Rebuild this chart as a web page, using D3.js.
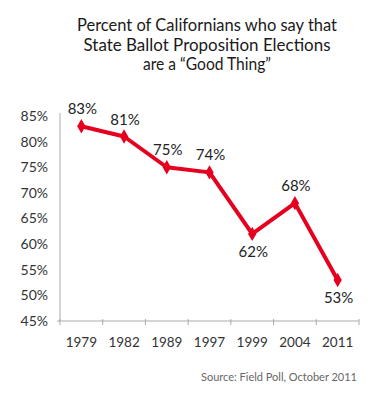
<!DOCTYPE html>
<html><head><meta charset="utf-8">
<script src="https://cdn.jsdelivr.net/npm/d3@7"></script>
<style>
html,body{margin:0;padding:0;background:#fff;}
text{font-family:Lato,"Open Sans",sans-serif;}
</style></head>
<body>
<svg id="chart" width="383" height="400"></svg>
<script>
const titleLines = ["Percent of Californians who say that", "State Ballot Proposition Elections", "are a \u201CGood Thing\u201D"];
const years = ["1979", "1982", "1989", "1997", "1999", "2004", "2011"];
const values = [83, 81, 75, 74, 62, 68, 53];
const labelBelow = [false, false, false, false, true, false, true];
const yTicks = [45, 50, 55, 60, 65, 70, 75, 80, 85];
const source = "Source: Field Poll, October 2011";

const svg = d3.select("#chart");
const red = "#e6001f";

const x = d3.scaleBand().domain(years).range([60, 359]);
const y = d3.scaleLinear().domain([45, 85]).range([321, 116]);

// Title
const titleW = [260, 247, 128];
const titleY = [31, 51, 70];
svg.selectAll("text.title").data(titleLines).enter().append("text")
  .attr("class", "title")
  .attr("x", 207).attr("y", (d, i) => titleY[i])
  .attr("text-anchor", "middle")
  .attr("font-size", 17).attr("fill", "#1a1a1a")
  .attr("textLength", (d, i) => titleW[i]).attr("lengthAdjust", "spacingAndGlyphs")
  .text(d => d);

// Y axis
const yAxis = d3.axisLeft(y).tickValues(yTicks).tickSize(0).tickPadding(12).tickFormat(d => d + "%");
const gy = svg.append("g").attr("transform", "translate(60,0)").call(yAxis);
gy.select(".domain").attr("stroke", "#aaa").attr("d", `M0,${y(85)-3}V${y(45)}`);
gy.selectAll("text").attr("font-size", 14).attr("fill", "#333").attr("font-family", "Lato,sans-serif");

// X axis
const xAxis = d3.axisBottom(x).tickSize(0).tickPadding(16);
const gx = svg.append("g").attr("transform", `translate(0,${y(45)})`).call(xAxis);
gx.select(".domain").attr("stroke", "#aaa").attr("d", `M57,0H359`);
gx.selectAll("text").attr("font-size", 13.5).attr("fill", "#333").attr("font-family", "Lato,sans-serif");
// band boundary ticks
const bounds = years.map(d => x(d)).concat([x.range()[1]]);
gx.selectAll("line.bt").data(bounds).enter().append("line")
  .attr("class", "bt")
  .attr("x1", d => d).attr("x2", d => d).attr("y1", -2).attr("y2", 4)
  .attr("stroke", "#aaa");

// Line
const pts = years.map((yr, i) => ({ yr, v: values[i], below: labelBelow[i] }));
const cx = d => x(d.yr) + x.bandwidth() / 2;
svg.append("path").datum(pts)
  .attr("fill", "none").attr("stroke", red).attr("stroke-width", 4)
  .attr("stroke-linejoin", "round")
  .attr("d", d3.line().x(cx).y(d => y(d.v)));

svg.selectAll("path.mk").data(pts).enter().append("path")
  .attr("class", "mk")
  .attr("transform", d => `translate(${cx(d)},${y(d.v)})`)
  .attr("d", d3.symbol().type(d3.symbolDiamond).size(60))
  .attr("fill", red);

// Value labels
svg.selectAll("text.vl").data(pts).enter().append("text")
  .attr("class", "vl")
  .attr("x", d => cx(d) + 1)
  .attr("y", d => d.below ? y(d.v) + 23 : y(d.v) - 12)
  .attr("text-anchor", "middle")
  .attr("font-size", 15).attr("fill", "#222")
  .text(d => d.v + "%");

// Source
svg.append("text")
  .attr("x", 357).attr("y", 381)
  .attr("text-anchor", "end")
  .attr("font-size", 12).attr("fill", "#666")
  .attr("textLength", 156).attr("lengthAdjust", "spacingAndGlyphs")
  .text(source);
</script>
</body></html>
